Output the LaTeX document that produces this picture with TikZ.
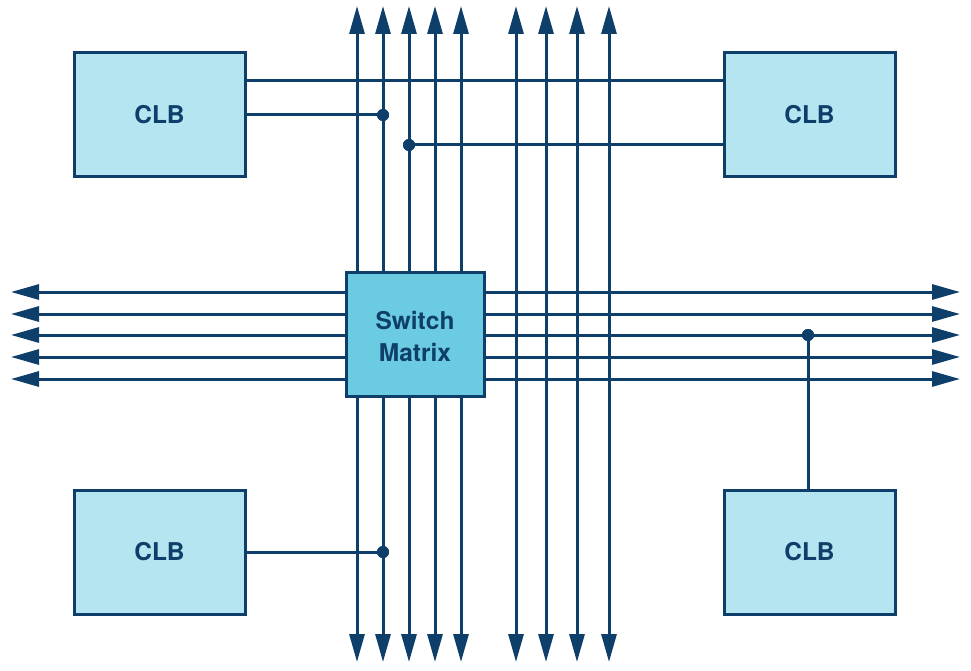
\documentclass[tikz,border=0pt]{standalone}
\usepackage{fontspec}
\setmainfont{TeX Gyre Heros}
\usetikzlibrary{arrows.meta}
\definecolor{navy}{RGB}{14,63,106}
\definecolor{clbfill}{RGB}{181,229,240}
\definecolor{swfill}{RGB}{107,203,224}
\tikzset{
  wire/.style={draw=navy, line width=3pt},
  biarrow/.style={wire, {Triangle[length=28pt,width=15pt]}-{Triangle[length=28pt,width=15pt]}},
  clb/.style={draw=navy, line width=3pt, fill=clbfill, minimum width=171pt, minimum height=124pt, inner sep=0pt, text=navy, font=\fontsize{24.5}{28}\selectfont\bfseries},
  swbox/.style={draw=navy, line width=3pt, fill=swfill, minimum width=138pt, minimum height=124pt, inner sep=0pt, text=navy, align=center, font=\fontsize{24.5}{32}\selectfont\bfseries},
  swlabel/.style={text=navy, align=center, inner sep=0pt, font=\fontsize{24.5}{32}\selectfont\bfseries},
  dot/.style={circle, fill=navy, minimum size=12pt, inner sep=0pt}
}
\begin{document}
\begin{tikzpicture}[x=1pt,y=-1pt]
\useasboundingbox (0,0) rectangle (971,671);
% vertical coordinates
\foreach \i/\x in {1/357,2/383,3/409,4/435,5/461,6/516,7/546,8/577,9/609}{
  \coordinate (vt\i) at (\x,6);
  \coordinate (vb\i) at (\x,662);
}
\foreach \i/\y in {1/292,2/314,3/335,4/357,5/379}{
  \coordinate (hl\i) at (11,\y);
  \coordinate (hr\i) at (960,\y);
}
% CLB nodes
\node[clb] (clbTL) at (159.5,115) {CLB};
\node[clb] (clbTR) at (809.5,115) {CLB};
\node[clb] (clbBL) at (159.5,552) {CLB};
\node[clb] (clbBR) at (809.5,552) {CLB};
% dots
\node[dot] (d1) at (383,115) {};
\node[dot] (d2) at (409,145) {};
\node[dot] (d3) at (383,552) {};
\node[dot] (d4) at (808,335) {};
\coordinate (c81l) at (245,81);
\coordinate (c81r) at (724,81);
% bus lines
\foreach \i in {1,...,9}{ \draw[biarrow] (vt\i) -- (vb\i); }
\foreach \i in {1,...,5}{ \draw[biarrow] (hl\i) -- (hr\i); }
% CLB connections
\draw[wire] (clbTL.east |- c81l) -- (clbTR.west |- c81r);
\draw[wire] (clbTL.east |- d1) -- (d1.center);
\draw[wire] (clbTR.west |- d2) -- (d2.center);
\draw[wire] (clbBL.east |- d3) -- (d3.center);
\draw[wire] (clbBR.north -| d4) -- (d4.center);
% redraw boxes on top
\node[clb] at (clbTL) {CLB};
\node[clb] at (clbTR) {CLB};
\node[clb] at (clbBL) {CLB};
\node[clb] at (clbBR) {CLB};
\node[dot] at (d1) {};
\node[dot] at (d2) {};
\node[dot] at (d3) {};
\node[dot] at (d4) {};
\node[swbox] (sw) at (415,334) {};
\node[swlabel] (swtext) at (415,336) {Switch\\Matrix};
\end{tikzpicture}
\end{document}
